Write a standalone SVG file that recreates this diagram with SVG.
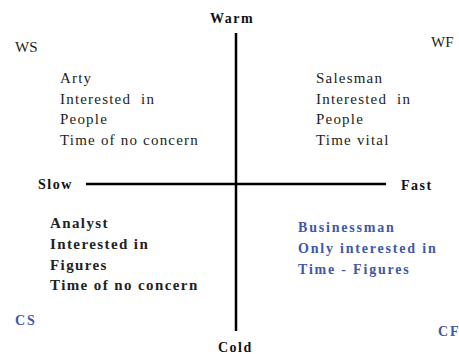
<svg xmlns="http://www.w3.org/2000/svg" width="459" height="354" viewBox="0 0 459 354">
<style>
text{font-family:"Liberation Serif","Times New Roman","DejaVu Serif",serif;}
.r{font-size:15px;fill:#222;letter-spacing:1.2px;}
.b{font-size:14px;font-weight:bold;fill:#111;letter-spacing:1.5px;}
.bb{font-size:15px;font-weight:bold;fill:#222;letter-spacing:1.4px;}
.blue{font-size:14px;font-weight:bold;fill:#3e58a8;letter-spacing:1.8px;}
.ax{stroke:#000;stroke-width:2.5;fill:none;}
</style>
<rect width="459" height="354" fill="#fff"/>
<g id="connectors">
<line class="ax" x1="236" y1="33" x2="236" y2="331"/>
<line class="ax" x1="86" y1="184" x2="386" y2="184"/>
</g>
<g id="warm"><text class="b" x="210" y="23">Warm</text></g>
<g id="cold"><text class="b" x="218" y="352">Cold</text></g>
<g id="slow"><text class="b" x="38" y="189">Slow</text></g>
<g id="fast"><text class="b" x="401" y="190">Fast</text></g>
<g id="ws"><text class="r" x="15" y="52" style="letter-spacing:0">WS</text></g>
<g id="wf"><text class="r" x="431" y="47" style="letter-spacing:0">WF</text></g>
<g id="cs"><text class="blue" x="15" y="325">CS</text></g>
<g id="cf"><text class="blue" x="438" y="336">CF</text></g>
<g id="arty">
<text class="r" x="60" y="83">Arty</text>
<text class="r" x="60" y="104" xml:space="preserve">Interested  in</text>
<text class="r" x="60" y="124">People</text>
<text class="r" x="60" y="145">Time of no concern</text>
</g>
<g id="salesman">
<text class="r" x="316" y="83">Salesman</text>
<text class="r" x="316" y="104" xml:space="preserve">Interested  in</text>
<text class="r" x="316" y="124">People</text>
<text class="r" x="316" y="145">Time vital</text>
</g>
<g id="analyst">
<text class="bb" x="50" y="228">Analyst</text>
<text class="bb" x="50" y="249">Interested in</text>
<text class="bb" x="50" y="270">Figures</text>
<text class="bb" x="50" y="290">Time of no concern</text>
</g>
<g id="businessman">
<text class="blue" x="298" y="232">Businessman</text>
<text class="blue" x="298" y="253">Only interested in</text>
<text class="blue" x="298" y="274">Time - Figures</text>
</g>
</svg>
